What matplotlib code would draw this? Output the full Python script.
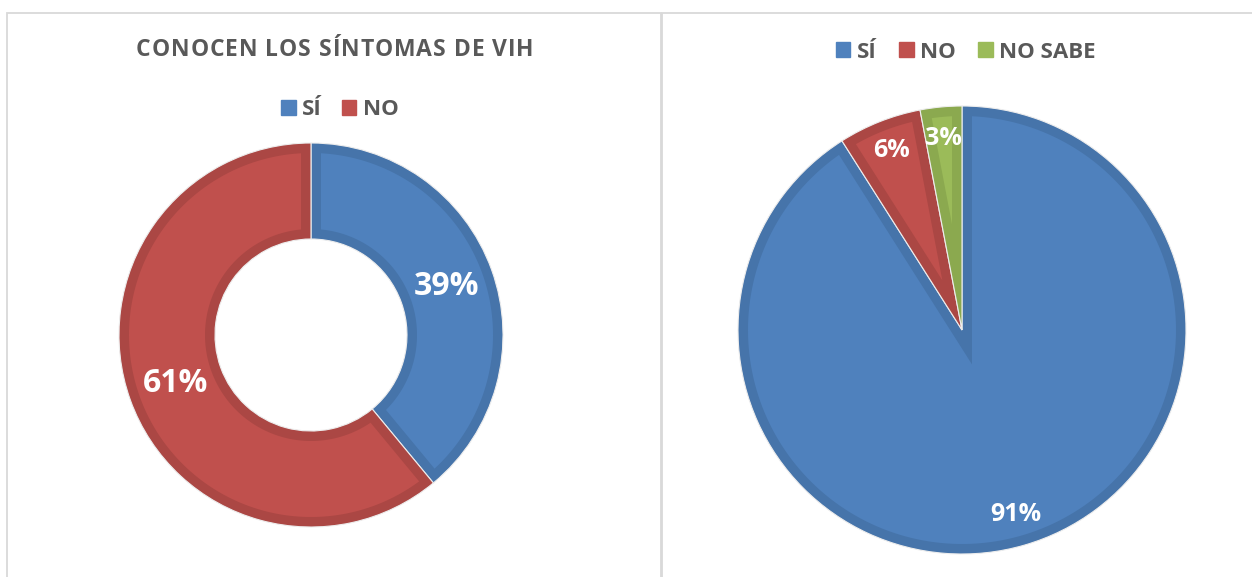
import numpy as np
import matplotlib.pyplot as plt
from matplotlib.patches import Patch, Rectangle, Polygon

# datos
titulo_izq = 'CONOCEN LOS SÍNTOMAS DE VIH'
cat_izq = ['SÍ', 'NO']
val_izq = [39, 61]
cat_der = ['SÍ', 'NO', 'NO SABE']
val_der = [91, 6, 3]

relleno = {'SÍ': '#4F81BD', 'NO': '#C0504D', 'NO SABE': '#9BBB59'}
borde = {'SÍ': '#4674AA', 'NO': '#AB4744', 'NO SABE': '#8BA94F'}
gris = '#595959'

plt.rcParams['font.family'] = ['Open Sans', 'DejaVu Sans']

W, H = 1252, 577
fig = plt.figure(figsize=(W / 100, H / 100), dpi=100)


def eje(cx, cy, r, m=1.03):
    # ejes cuadrados en píxeles, centro (cx, cy) medido desde arriba
    rr = r * m
    ax = fig.add_axes([(cx - rr) / W, (H - cy - rr) / H, 2 * rr / W, 2 * rr / H])
    ax.set_aspect('equal')
    ax.axis('off')
    return ax


def interior(w, d):
    # contorno de la cuña metido hacia dentro una distancia d (efecto borde de Excel)
    t1, t2 = np.radians(w.theta1), np.radians(w.theta2)
    R = w.r
    rin = R - w.width if w.width else 0
    ro = R - d
    do = np.arcsin(d / ro)
    a = np.linspace(t1 + do, t2 - do, 200)
    pts = list(zip(ro * np.cos(a), ro * np.sin(a)))
    if rin > 0:
        ri = rin + d
        di = np.arcsin(d / ri)
        a = np.linspace(t2 - di, t1 + di, 200)
        pts += list(zip(ri * np.cos(a), ri * np.sin(a)))
    else:
        half = (t2 - t1) / 2
        b = (t1 + t2) / 2
        k = d / np.sin(half)
        pts.append((k * np.cos(b), k * np.sin(b)))
    return pts


def pastel(ax, vals, cats, r_px, ancho=None, dist=0.75, fs=18):
    wp = dict(edgecolor='#EDEDED', linewidth=0.8)
    if ancho:
        wp['width'] = ancho
    cuñas, _, pcts = ax.pie(vals, colors=[borde[c] for c in cats],
                            startangle=90, counterclock=False,
                            autopct='%1.0f%%', pctdistance=dist,
                            wedgeprops=wp)
    ax.set_xlim(-1.03, 1.03)
    ax.set_ylim(-1.03, 1.03)
    d = 10 / r_px
    for w, c in zip(cuñas, cats):
        ax.add_patch(Polygon(interior(w, d), closed=True,
                             facecolor=relleno[c], edgecolor='none', zorder=1.5))
    for t in pcts:
        t.set_color('white')
        t.set_fontsize(fs)
        t.set_fontweight('bold')
        t.set_zorder(3)


def titulo_espaciado(txt, cx, cy, ancho, fs):
    # texto con espaciado entre letras, como en el gráfico original
    r = fig.canvas.get_renderer()

    def med(s):
        t = fig.text(0, 0, s, fontsize=fs, fontweight='bold')
        w = t.get_window_extent(r).width
        t.remove()
        return w
    base = med('||')
    anchos = [med('|' + ch + '|') - base for ch in txt]
    sep = (ancho - sum(anchos)) / (len(txt) - 1)
    x = cx - ancho / 2
    for ch, w in zip(txt, anchos):
        fig.text(x / W, 1 - cy / H, ch, ha='left', va='center',
                 fontsize=fs, fontweight='bold', color=gris)
        x += w + sep


# marcos de los paneles
fig.patches.append(Rectangle((7 / W, -0.05), 654 / W, (H - 13) / H + 0.05,
                             transform=fig.transFigure, fill=False,
                             edgecolor='#D9D9D9', linewidth=1.3))
fig.patches.append(Rectangle((662 / W, -0.05), 600 / W, (H - 13) / H + 0.05,
                             transform=fig.transFigure, fill=False,
                             edgecolor='#D9D9D9', linewidth=1.3))

# dona izquierda
ax1 = eje(311, 335, 192)
pastel(ax1, val_izq, cat_izq, 192, ancho=0.5, dist=0.75, fs=23)

titulo_espaciado(titulo_izq, 335, 50, 398, 16.5)
fig.legend([Patch(color=relleno[c]) for c in cat_izq], cat_izq,
           loc='center', bbox_to_anchor=(340 / W, 1 - 110 / H), ncol=2,
           frameon=False, handlelength=0.65, handleheight=0.65,
           handletextpad=0.3, columnspacing=0.9,
           prop=dict(size=16, weight='bold'), labelcolor=gris)

# pastel derecho
ax2 = eje(962, 330, 224)
pastel(ax2, val_der, cat_der, 224, dist=0.86, fs=18)

fig.legend([Patch(color=relleno[c]) for c in cat_der], cat_der,
           loc='center', bbox_to_anchor=(966 / W, 1 - 52 / H), ncol=3,
           frameon=False, handlelength=0.65, handleheight=0.65,
           handletextpad=0.3, columnspacing=1.0,
           prop=dict(size=16, weight='bold'), labelcolor=gris)

fig.savefig('out.png', dpi=100, facecolor='white')
plt.close()
